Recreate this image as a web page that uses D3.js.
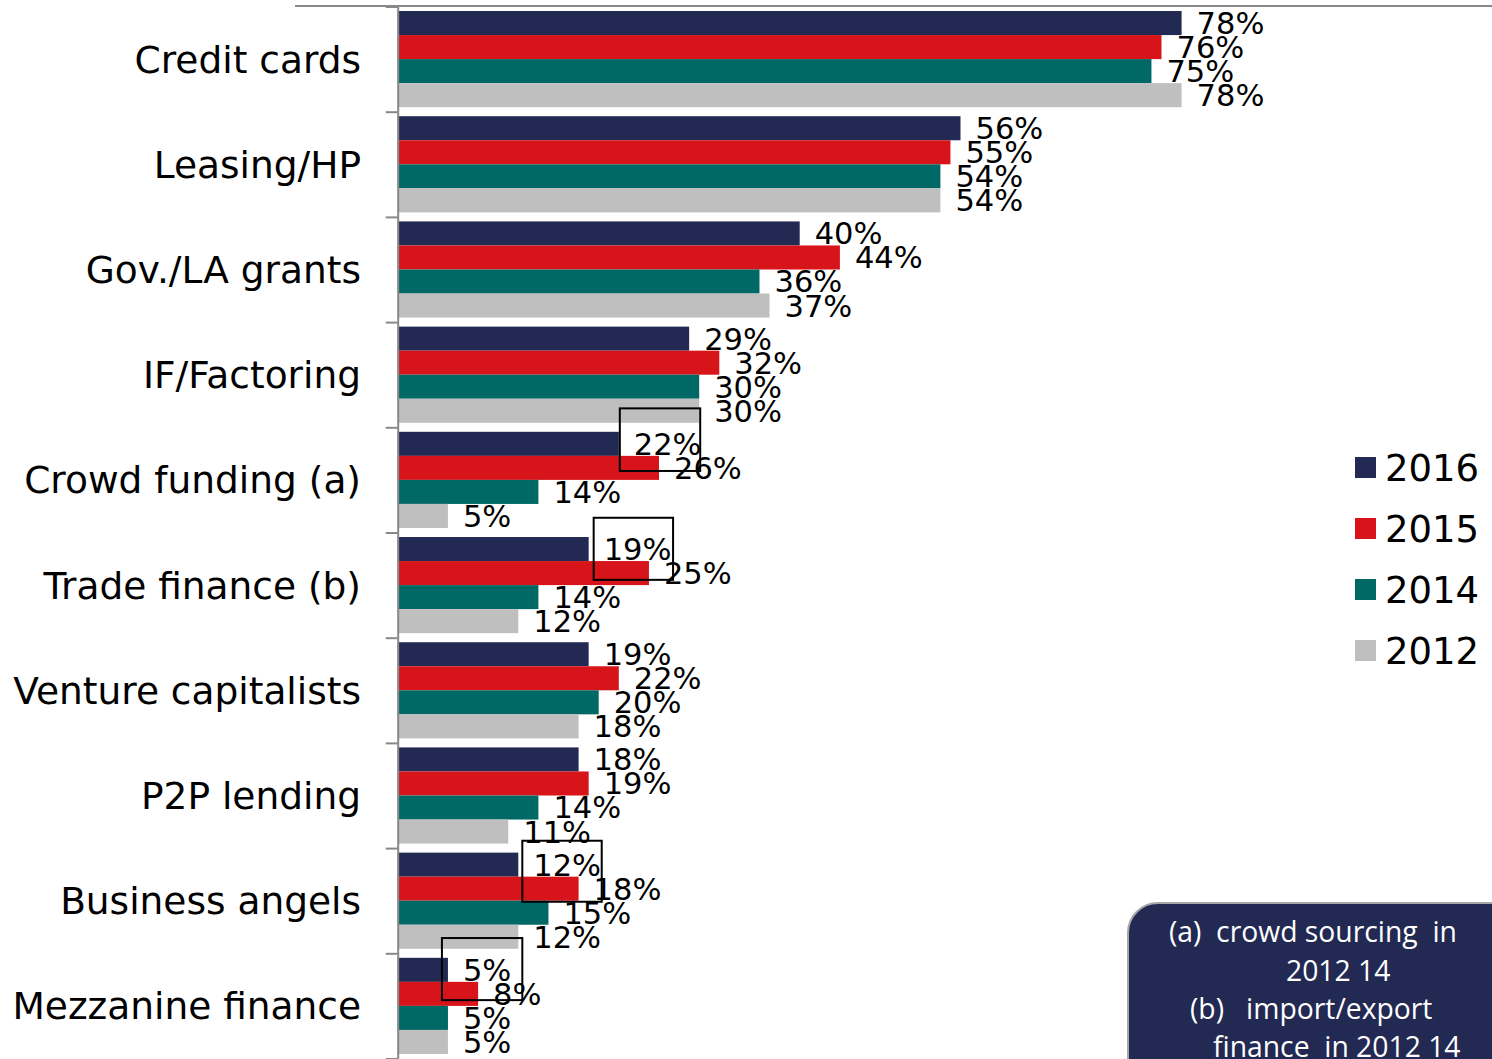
<!DOCTYPE html>
<html>
<head>
<meta charset="utf-8">
<script src="https://cdn.jsdelivr.net/npm/d3@7"></script>
<style>
  html, body { margin: 0; padding: 0; background: #fff; }
  svg { display: block; }
  text { font-family: "DejaVu Sans", Verdana, sans-serif; fill: #000; }
</style>
</head>
<body>
<svg id="chart" width="1492" height="1059"></svg>
<script>
// Finance sources used, share of respondents by survey year
const categories = [
  "Credit cards", "Leasing/HP", "Gov./LA grants", "IF/Factoring",
  "Crowd funding (a)", "Trade finance (b)", "Venture capitalists",
  "P2P lending", "Business angels", "Mezzanine finance"
];
const seriesNames = ["2016", "2015", "2014", "2012"];
const values2016 = [78, 56, 40, 29, 22, 19, 19, 18, 12, 5];
const values2015 = [76, 55, 44, 32, 26, 25, 22, 19, 18, 8];
const values2014 = [75, 54, 36, 30, 14, 14, 20, 14, 15, 5];
const values2012 = [78, 54, 37, 30, 5, 12, 18, 11, 12, 5];
const seriesColors = ["#222952", "#d7141a", "#006865", "#bfbfbf"];

// Highlight boxes around selected labels: value range (%) and band-relative extent
const highlights = [
  { category: "Crowd funding (a)", from: 22.1, to: 30.1, top: -0.18, bottom: 0.415 },
  { category: "Trade finance (b)", from: 19.5, to: 27.4, top: -0.14, bottom: 0.45 },
  { category: "Business angels", from: 12.4, to: 20.3, top: -0.07, bottom: 0.51 },
  { category: "Mezzanine finance", from: 4.4, to: 12.4, top: -0.145, bottom: 0.445 }
];

const noteLines = [
  { text: "(a)  crowd sourcing  in", x: 1169, y: 942 },
  { text: "2012 14", x: 1286, y: 981 },
  { text: "(b)   import/export", x: 1190, y: 1019 },
  { text: "finance  in 2012 14", x: 1213, y: 1057 }
];

const seriesValues = [values2016, values2015, values2014, values2012];
const rows = categories.map((c, i) => ({
  category: c,
  values: seriesNames.map((s, k) => ({ series: s, value: seriesValues[k][i], color: seriesColors[k] }))
}));

const svg = d3.select("#chart");
const plotTop = 6.5, plotBottom = 1058.5, axisX = 397.7;

const x = d3.scaleLinear().domain([0, 100]).range([axisX, axisX + 1005]);
const y = d3.scaleBand().domain(categories).range([plotTop, plotBottom])
  .paddingInner(0.086).paddingOuter(0.043);
const ySeries = d3.scaleBand().domain(seriesNames).range([0, y.bandwidth()]);
const step = y.step();
const bandTop = c => plotTop + categories.indexOf(c) * step;

// Top frame line
svg.append("line")
  .attr("x1", 295).attr("x2", 1492).attr("y1", 6).attr("y2", 6)
  .attr("stroke", "#898989").attr("stroke-width", 2);

// Bars
const groups = svg.append("g").selectAll("g").data(rows).join("g")
  .attr("transform", d => `translate(0,${y(d.category)})`);

groups.selectAll("rect").data(d => d.values).join("rect")
  .attr("x", x(0))
  .attr("y", d => ySeries(d.series))
  .attr("width", d => x(d.value) - x(0))
  .attr("height", ySeries.bandwidth())
  .attr("fill", d => d.color);

// Value labels
groups.selectAll("text.val").data(d => d.values).join("text")
  .attr("class", "val")
  .attr("x", d => x(d.value) + 15)
  .attr("y", d => ySeries(d.series) + ySeries.bandwidth() / 2)
  .attr("dy", "0.36em")
  .attr("font-size", 30.5)
  .text(d => d.value + "%");

// Category axis with ticks at band boundaries
const yEdges = d3.scaleLinear().domain([0, categories.length]).range([plotTop, plotBottom]);
const axis = svg.append("g")
  .attr("transform", `translate(${axisX},0)`)
  .call(d3.axisLeft(yEdges).tickValues(d3.range(0, categories.length + 1))
    .tickFormat("").tickSize(12).tickSizeOuter(0));
axis.select(".domain").attr("stroke", "#898989").attr("stroke-width", 2);
axis.selectAll(".tick line").attr("stroke", "#898989").attr("stroke-width", 2);

// Category labels
svg.append("g").selectAll("text").data(categories).join("text")
  .attr("x", 361)
  .attr("y", d => y(d) + y.bandwidth() / 2)
  .attr("dy", "0.36em")
  .attr("text-anchor", "end")
  .attr("font-size", 37.5)
  .text(d => d);

// Highlight boxes
svg.append("g").selectAll("rect").data(highlights).join("rect")
  .attr("x", d => x(d.from))
  .attr("y", d => bandTop(d.category) + d.top * step)
  .attr("width", d => x(d.to) - x(d.from))
  .attr("height", d => (d.bottom - d.top) * step)
  .attr("fill", "none")
  .attr("stroke", "#000")
  .attr("stroke-width", 2);

// Legend
const legend = svg.append("g").selectAll("g").data(seriesNames).join("g")
  .attr("transform", (d, i) => `translate(1355,${457 + i * 61})`);
legend.append("rect")
  .attr("width", 21).attr("height", 21)
  .attr("fill", (d, i) => seriesColors[i]);
legend.append("text")
  .attr("x", 30).attr("y", 10.5).attr("dy", "0.36em")
  .attr("font-size", 37)
  .text(d => d);

// Footnote panel
svg.append("rect")
  .attr("x", 1128).attr("y", 903).attr("width", 420).attr("height", 220)
  .attr("rx", 30).attr("ry", 30)
  .attr("fill", "#222952").attr("stroke", "#a6a6a6").attr("stroke-width", 2);
svg.append("g").selectAll("text").data(noteLines).join("text")
  .attr("x", d => d.x).attr("y", d => d.y)
  .attr("xml:space", "preserve")
  .style("font-family", "'Open Sans', Lato, sans-serif")
  .style("white-space", "pre")
  .attr("font-size", 28.3)
  .style("fill", "#fff")
  .text(d => d.text);
</script>
</body>
</html>
